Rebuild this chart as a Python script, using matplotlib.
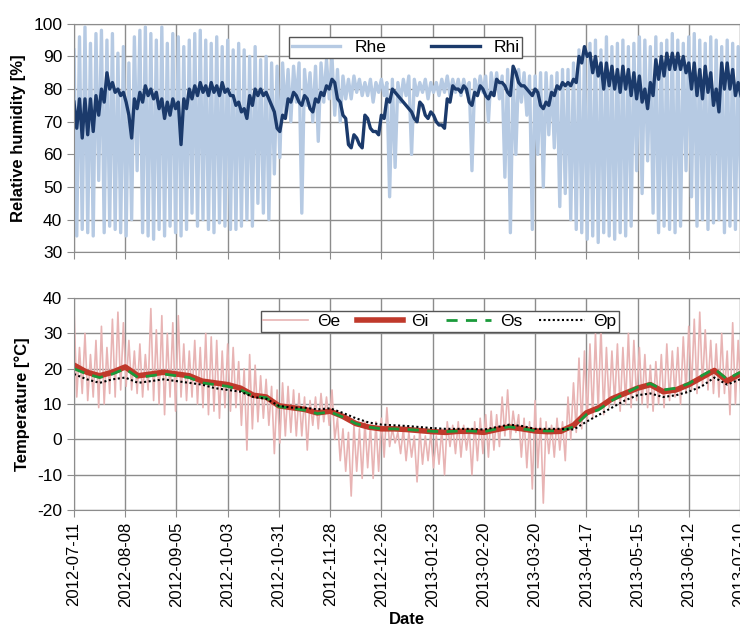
import numpy as np
import pandas as pd
import matplotlib
matplotlib.use("Agg")
import matplotlib.pyplot as plt
import matplotlib.dates as mdates

plt.rcParams['font.family'] = ['Liberation Sans', 'DejaVu Sans']
plt.rcParams['axes.unicode_minus'] = False

start = pd.Timestamp('2012-07-11')
tick_dates = pd.date_range('2012-07-11', periods=14, freq='28D')

# outdoor RH, daily highs / lows read every 3 days (day 0, 3, ... 363)
rhe_hi = [92, 96, 99, 94, 97, 98, 95, 97, 91, 93,
          88, 96, 98, 99, 97, 95, 99, 94, 97, 96,
          93, 95, 97, 98, 95, 94, 96, 93, 95, 92,
          94, 92, 90, 93, 89, 90, 88, 87, 88, 86,
          87, 88, 86, 85, 87, 88, 89, 90, 86, 84,
          83, 84, 83, 82, 83, 82, 83, 82, 83, 82,
          83, 84, 83, 82, 83, 82, 82, 83, 84, 83,
          83, 83, 82, 83, 84, 84, 85, 85, 84, 86,
          85, 86, 85, 84, 84, 85, 85, 84, 85, 86,
          86, 88, 92, 93, 94, 95, 92, 96, 93, 94,
          95, 93, 94, 96, 95, 93, 96, 94, 95, 97,
          95, 94, 96, 97, 95, 94, 96, 95, 93, 95,
          94, 93]
rhe_lo = [35, 37, 36, 35, 52, 36, 38, 37, 36, 35,
          40, 55, 36, 35, 34, 37, 35, 38, 36, 35,
          37, 42, 38, 40, 37, 36, 39, 38, 37, 37,
          38, 40, 38, 45, 42, 40, 54, 59, 72, 70,
          76, 42, 75, 70, 64, 76, 77, 72, 70, 77,
          77, 79, 78, 78, 76, 79, 78, 47, 56, 76,
          78, 60, 78, 79, 77, 79, 78, 79, 78, 79,
          78, 79, 55, 78, 79, 70, 78, 77, 53, 36,
          60, 76, 72, 37, 60, 50, 66, 62, 44, 48,
          40, 37, 36, 34, 35, 33, 36, 35, 34, 36,
          35, 38, 55, 48, 58, 42, 36, 38, 37, 36,
          38, 55, 47, 38, 40, 37, 39, 40, 36, 38,
          37, 40]

# indoor RH
rhi_hi = [76, 77, 77, 77, 78, 80, 85, 82, 80, 79,
          72, 77, 79, 81, 80, 79, 77, 76, 77, 76,
          77, 80, 81, 82, 81, 82, 81, 82, 80, 78,
          76, 74, 78, 80, 80, 79, 75, 68, 72, 77,
          79, 76, 78, 74, 77, 79, 81, 83, 77, 72,
          63, 66, 63, 72, 68, 67, 72, 77, 80, 78,
          76, 74, 71, 76, 72, 73, 70, 69, 77, 81,
          80, 81, 76, 79, 81, 78, 79, 83, 82, 79,
          87, 82, 81, 79, 80, 75, 76, 79, 81, 82,
          82, 83, 90, 93, 91, 90, 88, 88, 87, 86,
          87, 86, 85, 84, 80, 82, 89, 90, 91, 91,
          91, 90, 88, 88, 86, 87, 85, 80, 88, 88,
          86, 82]
rhi_lo = [68, 65, 66, 67, 72, 76, 80, 79, 78, 76,
          65, 74, 76, 78, 77, 74, 71, 72, 74, 63,
          74, 77, 78, 79, 78, 79, 78, 79, 78, 75,
          73, 71, 75, 78, 78, 77, 73, 67, 71, 76,
          78, 75, 77, 73, 76, 78, 80, 82, 76, 71,
          62, 65, 62, 71, 67, 66, 71, 76, 79, 77,
          75, 73, 70, 75, 71, 72, 69, 68, 76, 80,
          79, 80, 75, 78, 80, 77, 78, 82, 81, 78,
          85, 81, 80, 78, 79, 74, 75, 78, 80, 81,
          81, 82, 88, 90, 85, 84, 80, 81, 80, 79,
          80, 78, 77, 76, 74, 78, 83, 84, 86, 86,
          86, 85, 80, 78, 77, 79, 75, 73, 80, 80,
          78, 78]

# outdoor temperature
te_hi = [37, 26, 30, 24, 28, 32, 26, 34, 36, 33,
         28, 25, 27, 24, 37, 31, 35, 30, 33, 35,
         27, 25, 28, 26, 30, 29, 28, 25, 27, 26,
         22, 20, 24, 21, 18, 17, 15, 14, 16, 15,
         14, 13, 12, 11, 12, 13, 12, 14, 6, 3,
         2, 4, 3, 5, 4, 5, 6, 9, 3, 2,
         3, 2, 1, 3, 1, 2, 1, 3, 5, 4,
         5, 4, 3, 5, 6, 7, 8, 7, 12, 14,
         8, 7, 6, 5, 11, 6, 5, 4, 6, 5,
         12, 16, 23, 25, 27, 30, 32, 26, 25, 27,
         26, 30, 28, 26, 24, 21, 22, 24, 27, 25,
         26, 29, 32, 34, 36, 31, 28, 27, 30, 25,
         33, 28]
te_lo = [12, 13, 11, 12, 9, 10, 13, 12, 14, 15,
         14, 13, 12, 14, 11, 10, 7, 12, 8, 12,
         11, 12, 10, 9, 7, 8, 6, 9, 8, 9,
         4, -3, 3, 5, 6, 4, -4, -1, 1, 2,
         1, 1, -3, 4, 3, 5, 4, 0, -6, -9,
         -16, -9, -11, -8, -11, -9, -5, -2, -1, -4,
         -6, -5, -12, -7, -6, -8, -7, -10, -2, -4,
         -5, -3, -10, -6, -4, -5, -3, -2, 1, 0,
         2, -5, -8, -14, -8, -18, -4, -5, -3, -6,
         0, 2, 3, 5, 6, 8, 7, 9, 10, 8,
         10, 9, 11, 10, 9, 8, 10, 9, 11, 12,
         10, 13, 14, 13, 15, 14, 13, 12, 13, 7,
         10, 12]

# indoor / surface / ground temperatures, weekly (day 0, 7, ... 364)
ti = [21, 19, 18, 19, 20.5, 18, 18.5, 19, 18.5, 18,
      16.5, 16, 15.5, 14.5, 12.5, 12, 9.5, 9, 8.5, 7.5,
      8, 6.5, 4.5, 3.5, 3, 3, 2.8, 2.5, 2.2, 2,
      2.3, 2.3, 2, 2.8, 3.5, 3, 2.4, 2.2, 2.3, 4,
      7.5, 9, 11.5, 13, 14.5, 15.5, 13.5, 14, 15.5, 17.5,
      19.5, 16.5, 18.5]
ts = [20, 18.5, 17.5, 18.5, 20, 17.5, 18, 18.5, 18, 17.5,
      16, 15.5, 15, 14, 12.3, 11.8, 9.3, 8.8, 8.3, 7.3,
      7.8, 6.3, 4.5, 3.5, 3, 3, 2.8, 2.6, 2.3, 2.2,
      2.4, 2.4, 2.2, 3, 3.6, 3, 2.5, 2.4, 2.5, 3.5,
      7, 8.5, 11, 13, 14.8, 15.8, 14, 14.5, 15.8, 18,
      20, 17, 19]
tp = [18.5, 17, 16, 17, 17.5, 16, 16.5, 17, 16.5, 16,
      15.5, 14.5, 14, 13.5, 12, 11.5, 9.5, 9, 9, 8.5,
      8.8, 7.5, 6, 4.8, 4.2, 4, 3.8, 3.5, 3.2, 3,
      3, 3, 2.8, 3.5, 4.2, 3.8, 3, 3, 3, 2.8,
      5, 7, 9, 11, 12.5, 13, 12, 12.5, 13.5, 15,
      17.5, 15.5, 17]


def zigzag(hi, lo, step):
    # daily maxima and minima drawn alternately, half a step apart
    d = np.arange(len(hi)) * step
    days = np.column_stack([d, d + step / 2]).ravel()
    vals = np.column_stack([hi, lo]).ravel()
    return start + pd.to_timedelta(days, unit='D'), vals


t_rhe, v_rhe = zigzag(rhe_hi, rhe_lo, 3)
t_rhi, v_rhi = zigzag(rhi_hi, rhi_lo, 3)
t_te, v_te = zigzag(te_hi, te_lo, 3)
t_w = start + pd.to_timedelta(np.arange(len(ti)) * 7, unit='D')

fig = plt.figure(figsize=(7.4, 6.26), dpi=100)
ax1 = fig.add_axes([0.1, 0.597, 0.9, 0.365])
ax2 = fig.add_axes([0.1, 0.185, 0.9, 0.339])

ax1.plot(t_rhe, v_rhe, color='#b6cae3', lw=2.4, label='Rhe')
ax1.plot(t_rhi, v_rhi, color='#1b3a6b', lw=2.4, label='Rhi')

ax2.plot(t_te, v_te, color='#e8b4b4', lw=1.2, label='Θe')
ax2.plot(t_w, ti, color='#c0392b', lw=4, label='Θi')
ax2.plot(t_w, ts, color='#1a9a3a', lw=2, ls=(0, (4, 3)), label='Θs')
ax2.plot(t_w, tp, color='black', lw=1.5, ls=(0, (1, 1.2)), label='Θp')

ax1.set_ylim(30, 100)
ax1.set_yticks(range(30, 101, 10))
ax2.set_ylim(-20, 40)
ax2.set_yticks(range(-20, 41, 10))

for ax in (ax1, ax2):
    ax.set_xlim(tick_dates[0], tick_dates[-1])
    ax.set_xticks(tick_dates)
    ax.xaxis.set_major_formatter(mdates.DateFormatter('%Y-%m-%d'))
    ax.grid(True, color='#8c8c8c', lw=1)
    ax.set_axisbelow(True)
    for s in ax.spines.values():
        s.set_color('#8c8c8c')
    ax.tick_params(axis='both', colors='#8c8c8c', labelcolor='black',
                   labelsize=12.5, length=5)

ax1.tick_params(axis='x', labelbottom=False)
ax2.tick_params(axis='x', labelrotation=90, labelsize=12)

ax1.set_ylabel('Relative humidity [%]', fontsize=12, fontweight='bold', labelpad=5)
ax2.set_ylabel('Temperature [°C]', fontsize=12, fontweight='bold', labelpad=5)
ax2.set_xlabel('Date', fontsize=12, fontweight='bold', labelpad=3)

leg1 = ax1.legend(loc='upper left', bbox_to_anchor=(0.31, 0.978), ncol=2,
                  fontsize=12.5, handlelength=2.8, columnspacing=2.6,
                  fancybox=False, framealpha=1, borderpad=0.15,
                  edgecolor='#555555')
leg2 = ax2.legend(loc='upper left', bbox_to_anchor=(0.267, 0.978), ncol=4,
                  fontsize=12.5, handlelength=2.6, columnspacing=1.0,
                  fancybox=False, framealpha=1, borderpad=0.15,
                  edgecolor='#555555', handletextpad=0.5)
for leg in (leg1, leg2):
    leg.get_frame().set_linewidth(1)

fig.savefig('out.png', dpi=100)
